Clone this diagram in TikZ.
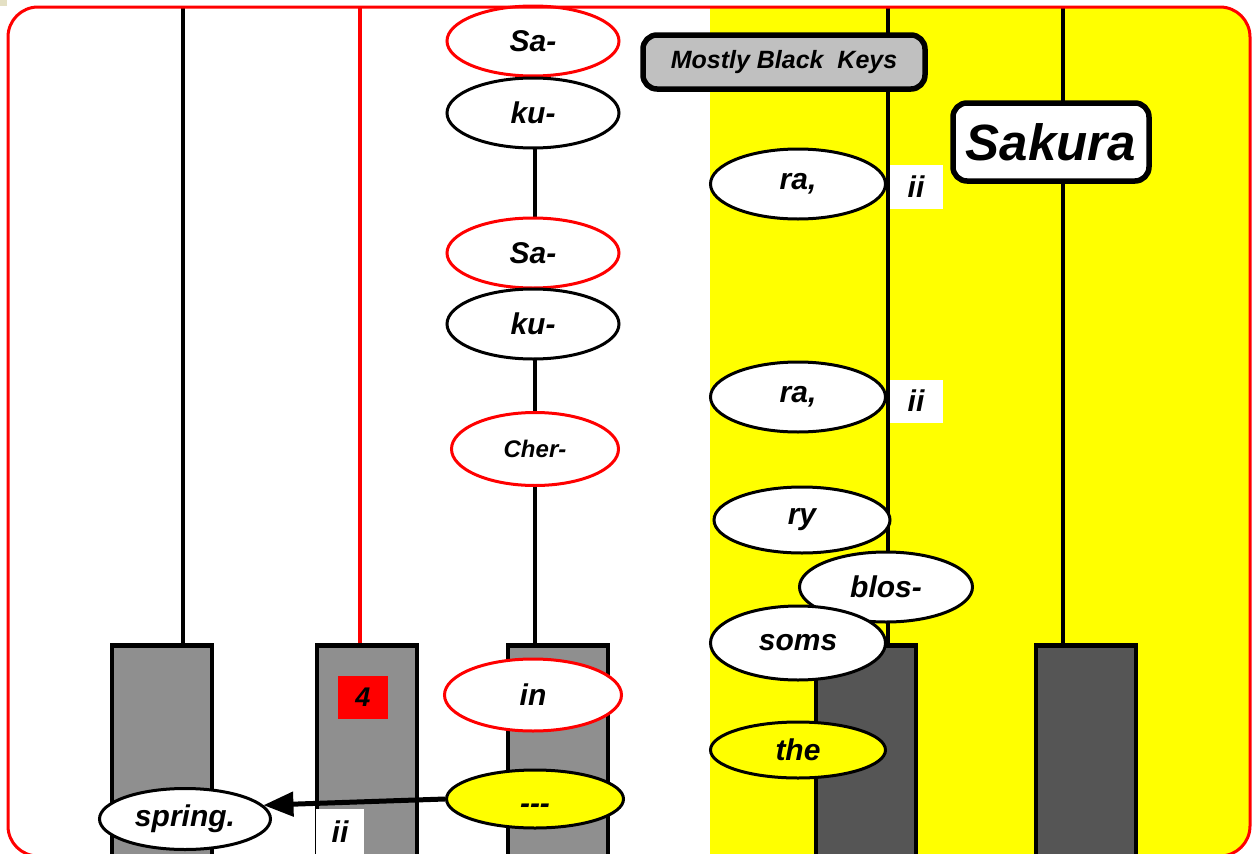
\documentclass[tikz,border=0pt]{standalone}
\usepackage{fontspec}
\setmainfont{Liberation Sans}
\usetikzlibrary{shapes.geometric,arrows.meta}
\definecolor{keylight}{HTML}{8F8F8F}
\definecolor{keydark}{HTML}{555555}
\definecolor{labelgray}{HTML}{C0C0C0}
\definecolor{cornerbeige}{HTML}{E4E0C4}
\definecolor{pureyellow}{RGB}{255,255,0}
\newcommand\lyrfont{\fontsize{30}{34}\selectfont\bfseries\itshape}
\newcommand\smallfont{\fontsize{24}{28}\selectfont\bfseries\itshape}
\tikzset{
  lyric/.style={ellipse, draw=black, line width=3pt, fill=white, minimum width=172pt, minimum height=70pt, inner sep=0pt, font=\lyrfont},
  redlyric/.style={lyric, draw=red},
  yellowlyric/.style={lyric, fill=pureyellow},
  keylightbox/.style={draw=black, line width=4.5pt, fill=keylight, minimum width=100pt, minimum height=240pt, anchor=north, inner sep=0pt},
  keydarkbox/.style={keylightbox, fill=keydark},
  keystring/.style={line width=3.2pt, draw=black},
  tagbox/.style={fill=white, inner sep=0pt, font=\lyrfont},
  titlebox/.style={draw=black, line width=5.5pt, rounded corners=14pt, inner sep=0pt},
}
\begin{document}
\begin{tikzpicture}[x=1pt,y=-1pt]
\useasboundingbox (0,0) rectangle (1254,854);
\fill[cornerbeige] (0,0) rectangle (7,6);
% background
\begin{scope}
\clip[rounded corners=30pt] (8,7) rectangle (1250,856);
\fill[white] (8,7) rectangle (710,856);
\fill[pureyellow] (710,7) rectangle (1254,856);
\end{scope}
% keys
\node[keylightbox] (k1) at (162,643) {};
\node[keylightbox] (k2) at (367,643) {};
\node[keylightbox] (k3) at (558,643) {};
\node[keydarkbox] (k4) at (866,643) {};
\node[keydarkbox] (k5) at (1086,643) {};
% string tops
\coordinate (t1) at (183,8);
\coordinate (t2) at (360,8);
\coordinate (t3) at (535,110);
\coordinate (t4) at (888,8);
\coordinate (t5) at (1063,8);
\draw[keystring] (t1) -- (t1 |- k1.north);
\draw[keystring, draw=red] (t2) -- (t2 |- k2.north);
\draw[keystring] (t3) -- (t3 |- k3.north);
\draw[keystring] (t4) -- (t4 |- k4.north);
\draw[keystring] (t5) -- (t5 |- k5.north);
% titles
\node[titlebox, fill=labelgray, minimum width=282pt, minimum height=54pt, font=\fontsize{25}{29}\selectfont\bfseries\itshape] (mbk) at (784,62) {Mostly Black\ \ Keys};
\node[titlebox, fill=white, minimum width=196pt, minimum height=78pt, font=\fontsize{51}{57}\selectfont\bfseries\itshape] (title) at (1051,142) {Sakura};
% lyrics
\node[redlyric] (sa1) at (533,41) {Sa-};
\node[lyric] (ku1) at (533,113) {ku-};
\node[redlyric] (sa2) at (533,253) {Sa-};
\node[lyric] (ku2) at (533,324) {ku-};
\node[redlyric, minimum width=167pt, minimum height=73pt, font=\smallfont] (cher) at (535,449) {Cher-};
\node[lyric, minimum width=175pt] (ra1) at (798,184) {ra,};
\node[lyric, minimum width=175pt] (ra2) at (798,397) {ra,};
\node[lyric, minimum width=176pt, minimum height=66pt] (ry) at (802,520) {ry};
\node[lyric, minimum width=173pt] (blos) at (886,587) {blos-};
\node[lyric, minimum width=175pt, minimum height=74pt] (soms) at (798,643) {soms};
\node[redlyric, minimum width=177pt, minimum height=72pt] (in) at (533,695) {in};
\node[yellowlyric, minimum width=175pt, minimum height=56pt] (the) at (798,750) {the};
\node[yellowlyric, minimum width=177pt, minimum height=58pt, text height=28pt, text depth=0pt] (dash) at (535,799) {-{}-{}-};
\node[lyric, minimum width=171pt, minimum height=61pt] (spring) at (185,819) {spring.};
% tags
\node[tagbox, minimum width=53pt, minimum height=44pt] (ii1) at (916,187) {ii};
\node[tagbox, minimum width=53pt, minimum height=43pt] (ii2) at (916,401) {ii};
\node[tagbox, minimum width=48pt, minimum height=46pt] (ii3) at (340,832) {ii};
\node[tagbox, fill=red, minimum width=50pt, minimum height=43pt, font=\fontsize{27}{31}\selectfont\bfseries\itshape] (four) at (363,697) {4};
% arrow
\draw[line width=5pt, -{Triangle[length=30pt,width=24pt]}] (dash.west) -- (spring.10);
% border
\draw[red, line width=3pt, rounded corners=30pt] (8,7) rectangle (1250,856);
\end{tikzpicture}
\end{document}
